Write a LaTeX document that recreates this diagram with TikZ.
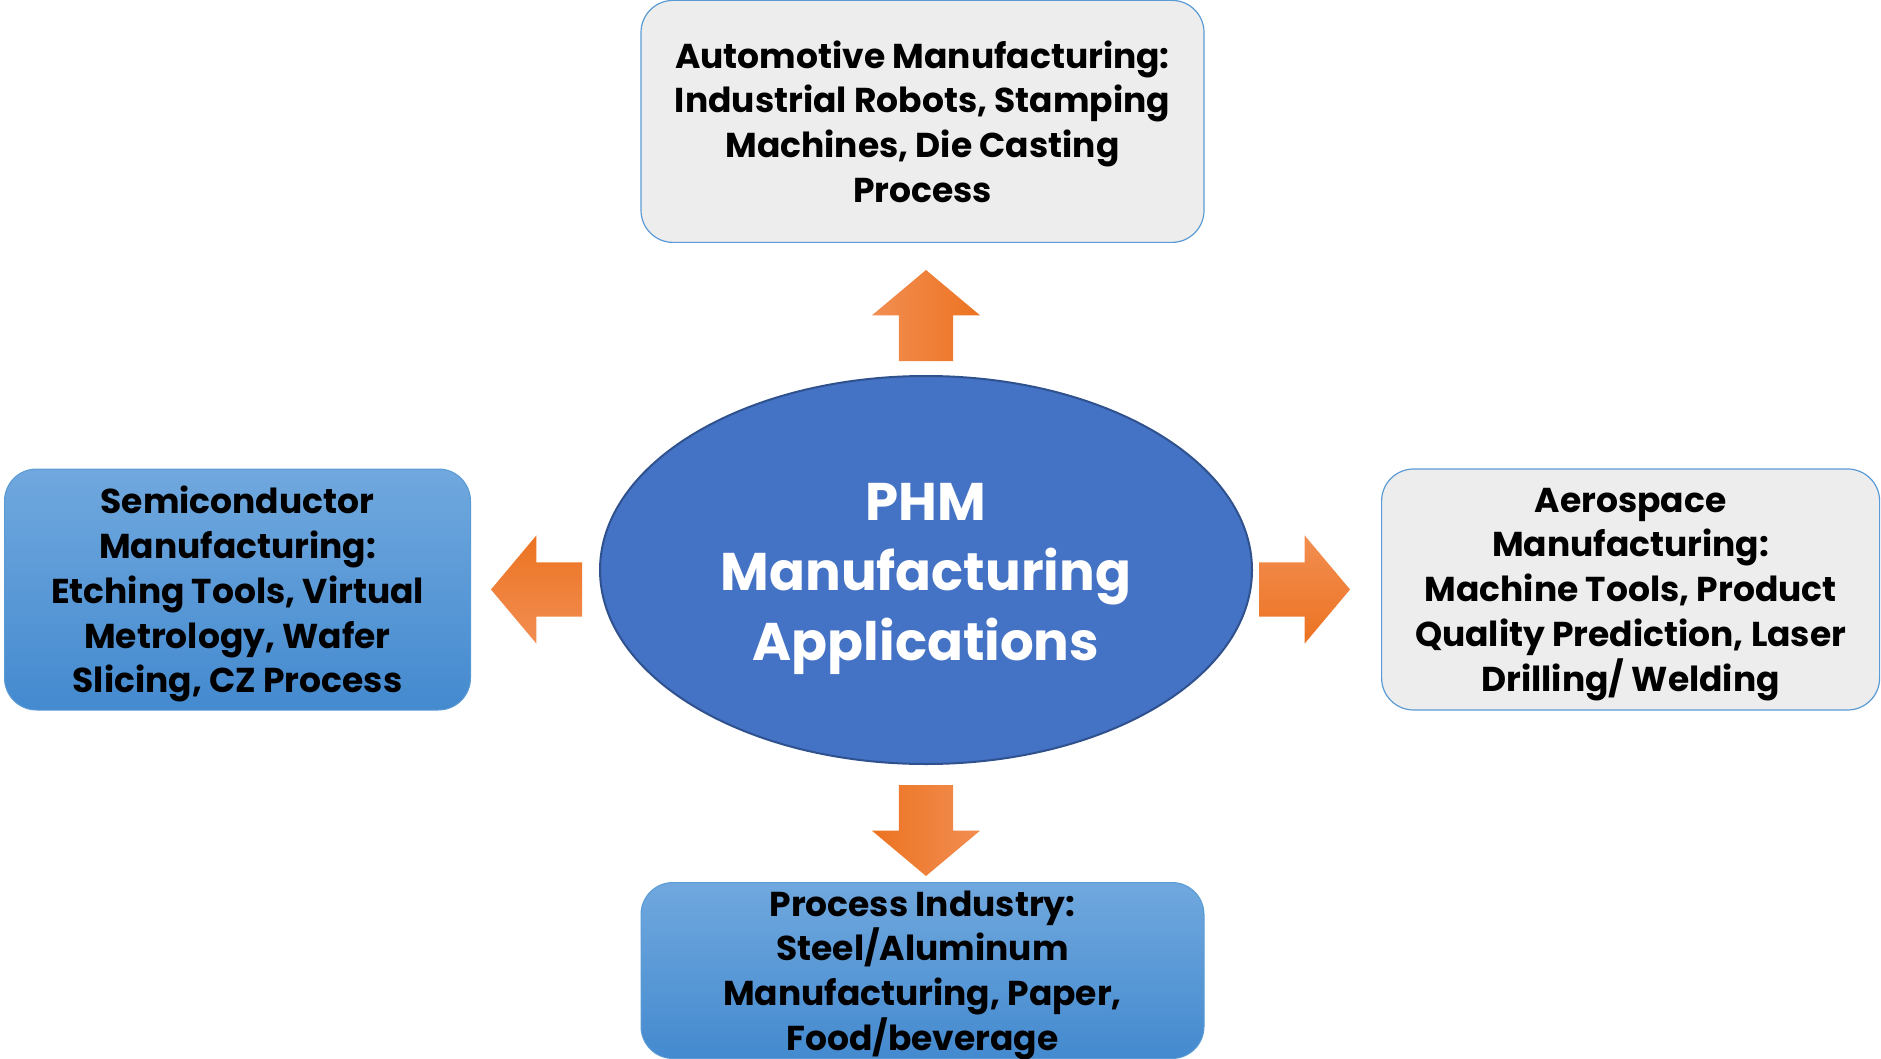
\documentclass[tikz,border=0pt]{standalone}
\usepackage{fontspec}
\setmainfont{Poppins}
\usepackage{tikz}
\usetikzlibrary{positioning,shapes.geometric,shapes.arrows}

\definecolor{hubblue}{RGB}{68,114,196}
\definecolor{hubedge}{RGB}{47,82,143}
\definecolor{boxedge}{RGB}{91,155,213}
\definecolor{boxgray}{RGB}{237,237,237}
\definecolor{bluetop}{RGB}{112,168,222}
\definecolor{bluebot}{RGB}{68,138,207}
\definecolor{orlight}{RGB}{242,142,82}
\definecolor{ordark}{RGB}{236,115,33}

\newcommand{\boxtext}{\fontsize{34.5}{44.8}\selectfont\bfseries}
\newcommand{\hubtext}{\fontsize{53}{70}\selectfont\bfseries}

\begin{document}
\begin{tikzpicture}[x=1pt,y=1pt,
    graybox/.style={shape=rectangle,draw=boxedge,line width=1.2pt,fill=boxgray,rounded corners=32pt,align=center,font=\boxtext,inner sep=0pt,text depth=0pt},
    bluebox/.style={shape=rectangle,draw=boxedge,line width=1pt,top color=bluetop,bottom color=bluebot,rounded corners=32pt,align=center,font=\boxtext,inner sep=0pt,text depth=0pt},
    blockarrow/.style={shape=single arrow,minimum height=91pt,minimum width=108pt,single arrow head extend=27pt,single arrow tip angle=100,inner sep=27pt,outer sep=0pt},
    dashline/.style={draw=hubblue,line width=2.5pt,dash pattern=on 7.5pt off 2.5pt},]
	\useasboundingbox (0,0) rectangle (1881,-1059);

	% create hub and application fields
    \node (PHM) [shape=ellipse,draw=hubedge,line width=2pt,fill=hubblue,text=white,minimum width=652pt,minimum height=388pt,inner sep=0pt,align=center,font=\hubtext,text depth=0pt] at (926,-570) {\rule{0pt}{41pt}PHM\\Manufacturing\\Applications};
	\node (auto) [graybox,minimum width=563pt,minimum height=242pt,above = 132pt of PHM,xshift=-3.5pt] {Automotive Manufacturing:\\Industrial Robots, Stamping\\Machines, Die Casting\\Process};
	\node (proc) [bluebox,minimum width=563pt,minimum height=176pt,below = 117pt of PHM,xshift=-3.5pt] {Process Industry:\\Steel/Aluminum\\Manufacturing, Paper,\\Food/beverage};
	\node (semi) [bluebox,minimum width=466pt,minimum height=241pt,left = 128pt of PHM,yshift=-19.5pt] {Semiconductor\\Manufacturing:\\Etching Tools, Virtual\\Metrology, Wafer\\Slicing, CZ Process};
	\node (aero) [graybox,minimum width=498pt,minimum height=241pt,right = 128pt of PHM,yshift=-19.5pt] {Aerospace\\Manufacturing:\\Machine Tools, Product\\Quality Prediction, Laser\\Drilling/ Welding};

	% block arrows out of the hub
	\node (upA) [blockarrow,shape border rotate=90,left color=orlight,right color=ordark,above = 14pt of PHM,anchor=tail] {};
	\node (downA) [blockarrow,shape border rotate=270,left color=ordark,right color=orlight,below = 20pt of PHM,anchor=tail] {};
	\node (leftA) [blockarrow,shape border rotate=180,top color=ordark,bottom color=orlight,right = 20pt of semi,anchor=tip] {};
	\node (rightA) [blockarrow,top color=orlight,bottom color=ordark,left = 31pt of aero,anchor=tip] {};

	% dashed rule under aerospace
	\coordinate (dashA) [below left = 22pt and 40pt of aero.south west];
	\coordinate (dashB) [below = 22pt of aero.south east];
	\draw[dashline] (dashA) -- (dashB);
\end{tikzpicture}
\end{document}
